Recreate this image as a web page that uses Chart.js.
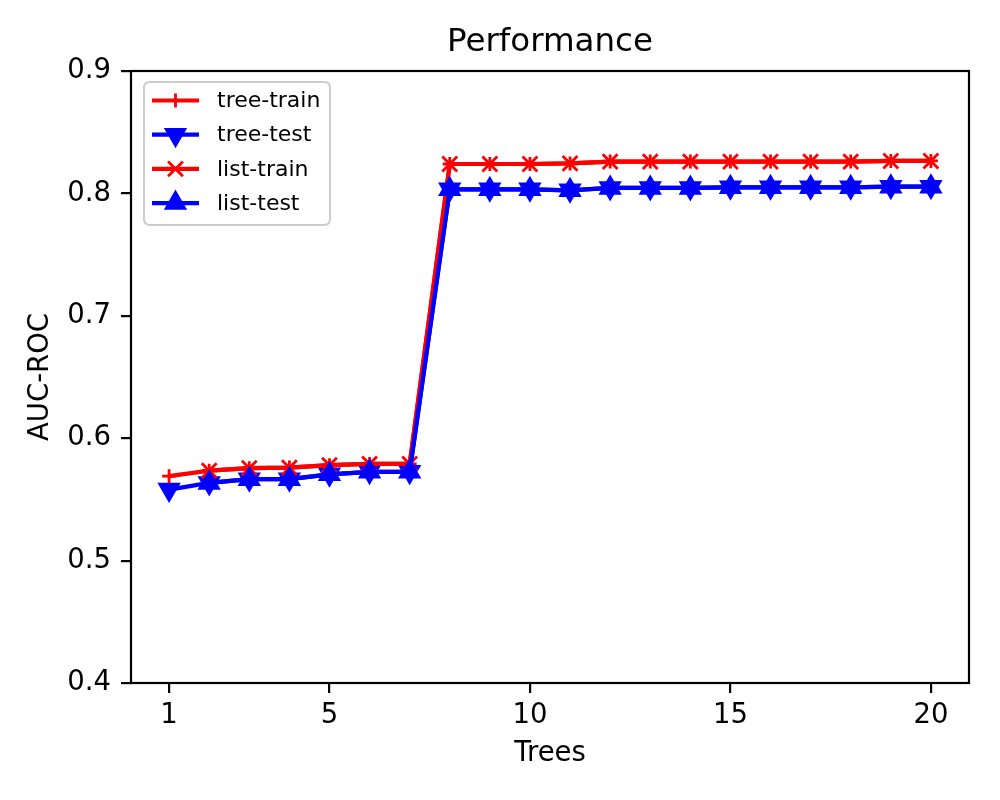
<!DOCTYPE html>
<html>
<head>
<meta charset="utf-8">
<script src="https://cdn.jsdelivr.net/npm/chart.js@4.4.0/dist/chart.umd.min.js"></script>
<style>
  html, body { margin: 0; padding: 0; background: #ffffff; }
  #wrap { width: 1000px; height: 800px; }
</style>
</head>
<body>
<div id="wrap"><canvas id="c" width="1000" height="800"></canvas></div>
<script>
// ---- data ----
const treeX = [1,2,3,4,5,6,7,8,9,10,11,12,13,14,15,16,17,18,19,20];
const treeTrain = [0.569,0.5735,0.5755,0.576,0.578,0.579,0.579,0.824,0.824,0.824,0.8245,0.826,0.826,0.826,0.826,0.826,0.826,0.826,0.8265,0.8265];
const treeTest  = [0.558,0.5635,0.5665,0.5665,0.5705,0.5725,0.5725,0.8033,0.8033,0.8033,0.8025,0.8045,0.8045,0.8045,0.805,0.805,0.805,0.805,0.8055,0.8055];
const listX = [2,3,4,5,6,7,8,9,10,11,12,13,14,15,16,17,18,19,20];
const listTrain = [0.5735,0.5755,0.576,0.578,0.579,0.579,0.824,0.824,0.824,0.8245,0.826,0.826,0.826,0.826,0.826,0.826,0.826,0.8265,0.8265];
const listTest  = [0.5635,0.5665,0.5665,0.5705,0.5725,0.5725,0.8033,0.8033,0.8033,0.8025,0.8045,0.8045,0.8045,0.805,0.805,0.805,0.805,0.8055,0.8055];
const xTickValues = [1,5,10,15,20];
const yTickValues = [0.4,0.5,0.6,0.7,0.8,0.9];
const seriesNames = ['tree-train','tree-test','list-train','list-test'];
const titleText = 'Performance';
const xTitle = 'Trees';
const yTitle = 'AUC-ROC';

const FONT = "'DejaVu Sans', 'Liberation Sans', sans-serif";
const RED = '#ff0000', BLUE = '#0000ff';

function pts(xs, ys) { return xs.map((x, i) => ({x: x, y: ys[i]})); }

const styles = [
  {color: RED,  pointStyle: 'cross',    radius: 7,    rotation: 0,   bw: 2.8},
  {color: BLUE, pointStyle: 'triangle', radius: 12,   rotation: 180, bw: 1.5},
  {color: RED,  pointStyle: 'crossRot', radius: 10.5, rotation: 0,   bw: 2.8},
  {color: BLUE, pointStyle: 'triangle', radius: 12,   rotation: 0,   bw: 1.5}
];
const seriesData = [pts(treeX, treeTrain), pts(treeX, treeTest), pts(listX, listTrain), pts(listX, listTest)];

const datasets = seriesNames.map((name, i) => ({
  label: name,
  data: seriesData[i],
  borderColor: styles[i].color,
  backgroundColor: styles[i].color,
  borderWidth: 4.2,
  pointStyle: styles[i].pointStyle,
  pointRadius: styles[i].radius,
  pointRotation: styles[i].rotation,
  pointBorderWidth: styles[i].bw,
  pointBackgroundColor: styles[i].color,
  pointBorderColor: styles[i].color,
  pointHoverRadius: styles[i].radius,
  tension: 0,
  fill: false,
  order: 4 - i,
  clip: false
}));

const framePlugin = {
  id: 'frame',
  afterDatasetsDraw(chart) {
    const {ctx, chartArea: a} = chart;
    ctx.save();
    ctx.strokeStyle = '#000';
    ctx.lineWidth = 2.2;
    ctx.strokeRect(a.left, a.top, a.right - a.left, a.bottom - a.top);
    ctx.restore();
  },
  afterDraw(chart) {
    const ctx = chart.ctx;
    const a = chart.chartArea;
    ctx.save();
    // title centred over the plot area
    ctx.fillStyle = '#000';
    ctx.font = '32.5px ' + FONT;
    ctx.textAlign = 'center';
    ctx.textBaseline = 'middle';
    ctx.fillText(titleText, (a.left + a.right) / 2, 43);
    // legend box
    const bx = 144, by = 82, bw = 186, bh = 143, r = 6;
    ctx.beginPath();
    ctx.moveTo(bx + r, by);
    ctx.lineTo(bx + bw - r, by); ctx.quadraticCurveTo(bx + bw, by, bx + bw, by + r);
    ctx.lineTo(bx + bw, by + bh - r); ctx.quadraticCurveTo(bx + bw, by + bh, bx + bw - r, by + bh);
    ctx.lineTo(bx + r, by + bh); ctx.quadraticCurveTo(bx, by + bh, bx, by + bh - r);
    ctx.lineTo(bx, by + r); ctx.quadraticCurveTo(bx, by, bx + r, by);
    ctx.closePath();
    ctx.fillStyle = 'rgba(255,255,255,0.8)';
    ctx.fill();
    ctx.strokeStyle = '#cccccc';
    ctx.lineWidth = 2;
    ctx.stroke();
    seriesNames.forEach((name, i) => {
      const y = 100.5 + i * 34.2;
      const s = styles[i];
      ctx.strokeStyle = s.color;
      ctx.fillStyle = s.color;
      ctx.lineWidth = 4.2;
      ctx.beginPath(); ctx.moveTo(152, y); ctx.lineTo(199, y); ctx.stroke();
      ctx.lineWidth = s.bw;
      Chart.helpers.drawPoint(ctx, {pointStyle: s.pointStyle, radius: s.radius, rotation: s.rotation, borderWidth: s.bw}, 175.5, y);
      ctx.fillStyle = '#000';
      ctx.font = '22px ' + FONT;
      ctx.textAlign = 'left';
      ctx.textBaseline = 'middle';
      ctx.fillText(name, 217, y + 1);
    });
    ctx.restore();
  }
};

new Chart(document.getElementById('c'), {
  type: 'line',
  data: {datasets: datasets},
  options: {
    responsive: false,
    animation: false,
    devicePixelRatio: 1,
    layout: {padding: {top: 71, right: 31, left: 0, bottom: 0}},
    plugins: {
      legend: {display: false},
      tooltip: {enabled: false},
      title: {display: false}
    },
    scales: {
      x: {
        type: 'linear',
        min: 0.05,
        max: 20.95,
        afterBuildTicks(scale) { scale.ticks = xTickValues.map(v => ({value: v})); },
        afterFit(scale) { scale.height = 117; },
        ticks: {
          color: '#000',
          font: {family: FONT, size: 27.5},
          padding: 6,
          maxRotation: 0,
          autoSkip: false,
          callback: (v) => String(v)
        },
        grid: {display: true, drawOnChartArea: false, drawTicks: true, tickLength: 10, color: '#000', lineWidth: 2.2},
        border: {display: false},
        title: {display: true, text: xTitle, color: '#000', font: {family: FONT, size: 27.5}, padding: {top: 0, bottom: 30}}
      },
      y: {
        type: 'linear',
        min: 0.4,
        max: 0.9,
        afterBuildTicks(scale) { scale.ticks = yTickValues.map(v => ({value: v})); },
        afterFit(scale) { scale.width = 131; },
        ticks: {
          color: '#000',
          font: {family: FONT, size: 27.5},
          padding: 10,
          autoSkip: false,
          callback: (v) => Number(v).toFixed(1)
        },
        grid: {display: true, drawOnChartArea: false, drawTicks: true, tickLength: 10, color: '#000', lineWidth: 2.2},
        border: {display: false},
        title: {display: true, text: yTitle, color: '#000', font: {family: FONT, size: 27.5}, padding: {top: 24, bottom: 0}}
      }
    }
  },
  plugins: [framePlugin]
});
</script>
</body>
</html>
